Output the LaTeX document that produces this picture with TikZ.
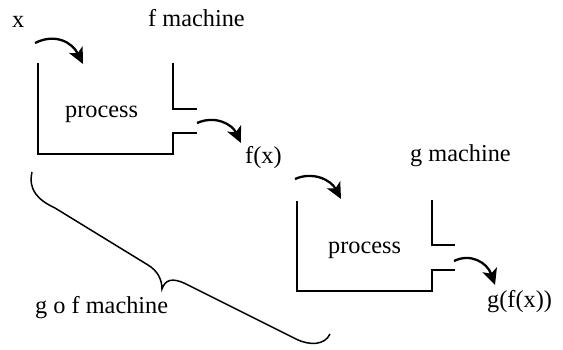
\documentclass[tikz,border=0pt]{standalone}
\usepackage{fontspec}
\setmainfont{Liberation Serif}
\usetikzlibrary{arrows.meta}
\begin{document}
\begin{tikzpicture}[x=1pt,y=-1pt,
  lbl/.style={anchor=base west,inner sep=0pt,font=\fontsize{24.3}{27}\selectfont},
  wall/.style={line width=1.9pt,line join=miter},
  flow/.style={line width=2.3pt,-{Stealth[length=16pt,width=15pt,inset=4pt]}},
  curly/.style={line width=1.5pt}]
\useasboundingbox (0,0) rectangle (563,349);
% labels
\node[lbl] (x) at (12,27) {x};
\node[lbl] (fm) at (148,26) {f machine};
\node[lbl] (p1) at (65,117) {process};
\node[lbl] (fx) at (245,163) {f(x)};
\node[lbl] (gm) at (410,161) {g machine};
\node[lbl] (p2) at (328,253) {process};
\node[lbl] (gfx) at (487,307) {g(f(x))};
\node[lbl] (gof) at (35,313) {g o f machine};
% f machine box
\draw[wall] (38,63) -- (38,154) -- (173,154) -- (173,133) -- (197,133);
\draw[wall] (173,63) -- (173,109) -- (197,109);
% g machine box
\draw[wall] (297,201) -- (297,291) -- (432,291) -- (432,270) -- (455,270);
\draw[wall] (432,200) -- (432,245) -- (455,245);
% arrows
\coordinate (a1s) at (35,43); \coordinate (a1e) at (83,64);
\coordinate (a2s) at (197,123); \coordinate (a2e) at (241,143);
\coordinate (a3s) at (295,179); \coordinate (a3e) at (341,199);
\coordinate (a4s) at (454,261); \coordinate (a4e) at (495,285);
\draw[flow] (a1s) .. controls (55,33) and (72,42) .. (a1e);
\draw[flow] (a2s) .. controls (215,115) and (232,124) .. (a2e);
\draw[flow] (a3s) .. controls (313,171) and (331,180) .. (a3e);
\draw[flow] (a4s) .. controls (470,253) and (487,262) .. (a4e);
% brace
\draw[curly] (32,172) .. controls (28,190) and (38,200) .. (55,208)
  -- (148,265) .. controls (158,271) and (162,280) .. (162,289)
  .. controls (165,280) and (172,277) .. (186,284)
  -- (296,339) .. controls (310,346) and (325,345) .. (330,334);
\end{tikzpicture}
\end{document}
